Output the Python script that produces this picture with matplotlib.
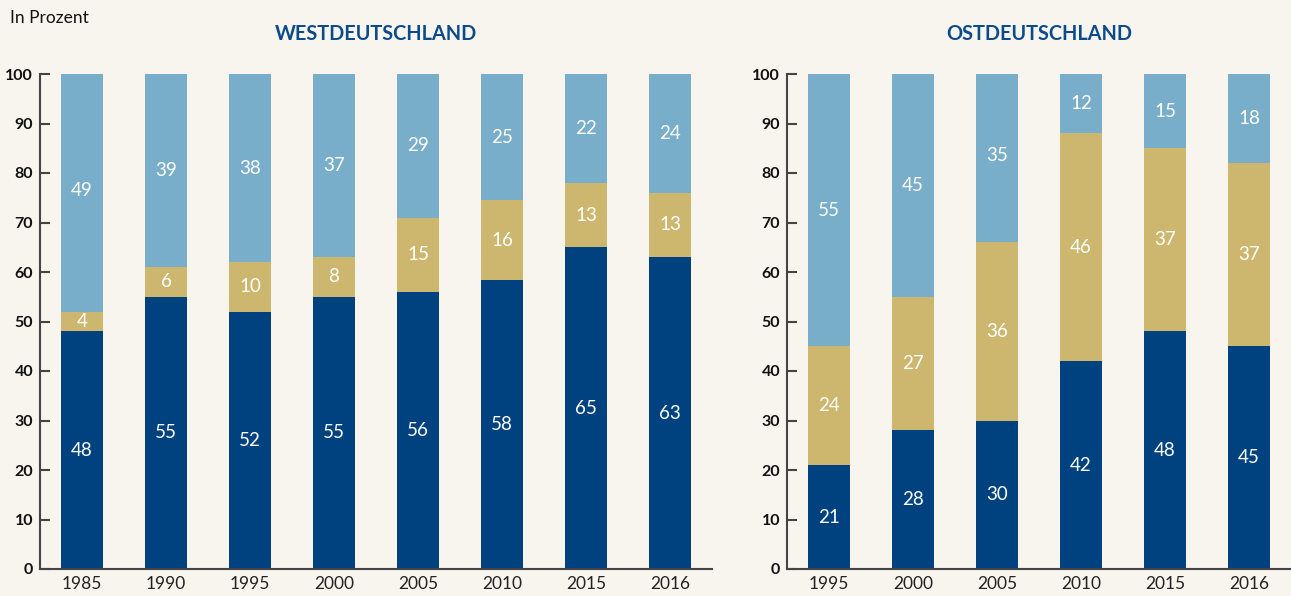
import matplotlib.pyplot as plt
import numpy as np

plt.rcParams['font.family'] = ['Lato', 'DejaVu Sans']

# Westdeutschland
west_years = ['1985', '1990', '1995', '2000', '2005', '2010', '2015', '2016']
west_dark = [48, 55, 52, 55, 56, 58.4, 65, 63]
west_gold = [4, 6, 10, 8, 15, 16.1, 13, 13]
west_light = [49, 39, 38, 37, 29, 25.4, 22, 24]

# Ostdeutschland
east_years = ['1995', '2000', '2005', '2010', '2015', '2016']
east_dark = [21, 28, 30, 42, 48, 45]
east_gold = [24, 27, 36, 46, 37, 37]
east_light = [55, 45, 35, 12, 15, 18]

BG = '#f8f5ee'
DARK = '#00427f'
GOLD = '#cdb76e'
LIGHT = '#78aec9'
TITLE = '#0b4a8b'
SPINE = '#444444'

W, H = 1291, 596
fig = plt.figure(figsize=(W / 100, H / 100), dpi=100, facecolor=BG)


def panel(rect, years, dark, gold, light, title):
    ax = fig.add_axes(rect, facecolor=BG)
    x = np.arange(len(years))
    bottom = np.zeros(len(years))
    for vals, col in [(dark, DARK), (gold, GOLD), (light, LIGHT)]:
        vals = np.array(vals, dtype=float)
        ax.bar(x, vals, 0.5, bottom=bottom, color=col, zorder=2)
        for xi, b, v in zip(x, bottom, vals):
            ax.text(xi, b + v / 2, f'{round(v)}', ha='center', va='center',
                    color='white', fontsize=13.5, zorder=3)
        bottom = bottom + vals
    ax.set_xlim(-0.5, len(years) - 0.5)
    ax.set_ylim(0, 100)
    ax.set_xticks(x)
    ax.set_xticklabels(years, fontsize=12.5)
    ax.set_yticks(range(0, 101, 10))
    ax.set_yticklabels([str(v) for v in range(0, 101, 10)], fontsize=11.5, fontweight='bold')
    ax.tick_params(axis='x', length=0, pad=5, colors='#222222')
    ax.tick_params(axis='y', length=7, width=1.5, direction='in', pad=5,
                   color=SPINE, labelcolor='#111111')
    for s in ['top', 'right']:
        ax.spines[s].set_visible(False)
    for s in ['left', 'bottom']:
        ax.spines[s].set_color(SPINE)
        ax.spines[s].set_linewidth(1.5)
    ax.spines['bottom'].set_zorder(4)
    cx = rect[0] + rect[2] / 2
    fig.text(cx, 1 - 34 / H, title, ha='center', va='center', color=TITLE,
             fontsize=14.3, fontweight='bold')
    return ax


bot = 27 / H
hgt = 495 / H
panel([40 / W, bot, 672 / W, hgt], west_years, west_dark, west_gold, west_light,
      'WESTDEUTSCHLAND')
panel([787 / W, bot, 504 / W, hgt], east_years, east_dark, east_gold, east_light,
      'OSTDEUTSCHLAND')

fig.text(10 / W, 1 - 18 / H, 'In Prozent', ha='left', va='center', fontsize=12.5,
         color='#111111')

fig.savefig('out.png', dpi=100, facecolor=BG)
